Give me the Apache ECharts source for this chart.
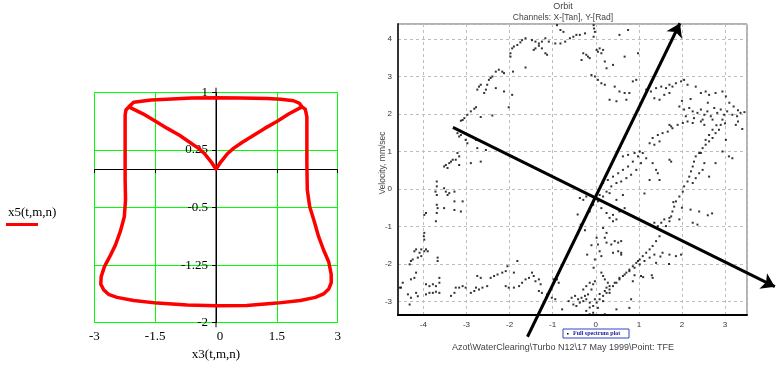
<!DOCTYPE html>
<html><head><meta charset="utf-8">
<script src="https://cdn.jsdelivr.net/npm/echarts@6/dist/echarts.min.js"></script>
<style>html,body{margin:0;padding:0;background:#fff}#c{width:776px;height:366px}</style>
</head><body><div id="c"></div>
<script>
// ---------- Left chart: x5(t,m,n) against x3(t,m,n) ----------
const x3Vals = [-2.15,-2.03,-1.6,-1.21,-0.6,0,0.6,1.26,1.6,1.91,2.05,2.12,
  1.8,1.5,1.2,0.93,0.65,0.43,0.28,0.19,0.1,0.04,0,
  -0.04,-0.1,-0.19,-0.28,-0.43,-0.65,-0.9,-1.2,-1.48,-1.8,-2.15,
  -2.22,-2.24,-2.24,-2.24,-2.23,-2.26,-2.36,-2.48,-2.62,-2.75,-2.83,-2.84,-2.77,-2.65,-2.44,-2.03,-1.45,-0.71,0,
  0.76,1.5,2.08,2.45,2.65,2.78,2.84,2.84,2.78,2.65,2.53,2.41,2.31,2.25,2.24,2.24,2.24,2.2,2.12];
const x5Vals = [0.81,0.87,0.9,0.91,0.925,0.93,0.925,0.92,0.91,0.89,0.86,0.81,
  0.72,0.62,0.53,0.44,0.35,0.27,0.2,0.14,0.08,0.03,0.0,
  0.03,0.08,0.14,0.2,0.27,0.35,0.44,0.53,0.62,0.72,0.81,
  0.77,0.7,0.29,-0.14,-0.4,-0.62,-0.815,-0.99,-1.14,-1.27,-1.4,-1.5,-1.57,-1.63,-1.67,-1.71,-1.745,-1.77,-1.78,
  -1.775,-1.745,-1.71,-1.67,-1.625,-1.56,-1.48,-1.37,-1.21,-1.05,-0.88,-0.66,-0.49,-0.27,0.08,0.47,0.68,0.78,0.81];
const leftXTicks = [-3, -1.5, 0, 1.5, 3];
const leftYTicks = [-2, -1.25, -0.5, 0.25, 1];
// vertical axis line of the left chart (at x3 = 0)
const yAxisLineX = [0, 0];
const yAxisLineY = [-2.06, 1.06];

// ---------- Right chart: Orbit ----------
const orbitPts = [
[-3.13,1.82],[-3.05,1.89],[-2.98,1.98],[-2.9,2.07],[-2.82,2.14],[-2.78,2.18],[-2.67,1.92],[-2.4,1.96],[-2.02,2.18],[-1.94,2.51],
[-2.75,2.65],[-2.71,2.73],[-2.67,2.78],[-2.59,2.56],[-2.55,2.65],[-2.52,2.78],[-2.48,2.91],[-2.44,2.96],[-2.4,3.0],[-2.32,3.13],[-2.25,3.18],[-2.17,3.13],[-2.13,3.09],[-2.32,2.69],[-2.13,2.6],
[-1.98,3.62],[-1.98,3.53],[-1.94,3.75],[-1.9,3.8],[-1.82,3.84],[-1.75,3.91],[-1.71,3.97],[-1.63,4.02],[-1.63,3.24],[-1.92,3.13],
[-1.48,3.97],[-1.4,3.93],[-1.32,3.88],[-1.25,3.93],[-1.17,4.02],[-1.09,3.93],[-0.94,3.88],[-0.82,3.88],[-0.71,3.93],
[-1.44,3.71],[-1.4,3.75],[-1.25,3.75],[-1.32,3.82],[-1.17,3.62],[-1.13,3.58],[-0.9,4.37],[-0.82,4.24],[-0.75,4.19],
[-0.6,4.02],[-0.52,4.06],[-0.45,4.11],[-0.37,4.11],[-0.25,4.15],[-0.05,4.37],[-0.04,4.28],[-0.02,4.19],[-0.05,4.06],
[0.02,3.71],[0.05,3.66],[0.09,3.75],[0.13,3.62],[0.17,3.71],[-0.29,3.62],[-0.22,3.58],[-0.18,3.53],[-0.14,3.49],[-0.33,3.44],
[0.21,3.4],[0.25,3.22],[0.4,3.31],[0.67,3.53],[0.55,4.11],[0.75,4.24],[0.98,3.62],
[-0.1,3.04],[-0.02,3.0],[0.05,2.91],[0.13,2.82],[0.21,2.78],[0.44,2.73],[0.55,2.6],[0.67,2.56],[0.48,2.34],[0.32,2.38],[0.86,2.87],[0.94,2.91],[0.78,2.56],[0.71,2.38],
[1.17,2.65],[1.28,2.6],[1.4,2.69],[1.52,2.73],[1.63,2.69],[1.71,2.78],[1.78,2.73],[1.86,2.82],[1.98,2.87],[2.05,2.91],[2.13,2.78],
[1.36,2.42],[1.48,2.38],[1.59,2.51],[1.71,2.56],[2.32,2.73],[2.44,2.56],[2.55,2.6],[2.63,2.51],[2.78,2.56],[2.94,2.6],[3.02,2.47],
[1.94,2.2],[2.05,2.12],[2.17,2.16],[2.25,2.07],[2.36,2.03],[2.44,2.12],[2.52,1.98],[2.59,2.07],[2.67,1.94],[2.75,2.16],[2.82,2.03],[2.9,2.12],[2.98,1.98],[3.05,2.07],[3.17,1.98],[3.28,1.94],[3.36,2.03],[2.09,1.94],[2.28,1.89],[2.48,1.85],[2.71,1.85],[2.94,1.85],
[3.1,2.3],[3.2,2.2],[3.3,2.1],[3.45,2.05],[2.6,2.3],[2.2,2.4],[2.0,2.35],[3.0,1.75],[3.3,1.8],[2.8,1.7],[3.4,1.6],
[-3.09,1.84],[-3.21,1.49],[-3.17,1.4],[-3.13,1.44],[-3.02,1.31],[-2.98,1.22],[-2.78,1.31],[-3.21,0.96],[-3.17,0.87],[-3.25,0.78],
[-3.52,0.6],[-3.48,0.64],[-3.44,0.56],[-3.4,0.69],[-3.36,0.73],[-3.32,0.78],[-3.17,0.64],[-2.9,0.69],[-2.67,0.73],[-2.55,1.04],[-2.75,1.09],
[-3.69,0.2],[-3.69,0.07],[-3.72,-0.07],[-3.69,-0.16],[-3.52,0.02],[-3.48,-0.07],[-3.44,-0.16],[-3.4,-0.11],[-3.28,-0.07],
[-3.69,-0.42],[-3.67,-0.51],[-3.69,-0.64],[-3.98,-0.69],[-3.94,-0.64],[-3.52,-0.51],[-3.28,-0.33],[-3.28,-0.56],[-3.13,-0.6],[-3.09,-0.33],
[-3.71,-0.86],[-3.98,-1.17],[-3.99,-1.26],[-3.98,-1.35],
[-4.21,-1.66],[-4.17,-1.61],[-4.09,-1.7],[-4.05,-1.61],[-3.98,-1.66],[-3.94,-1.61],[-3.9,-1.66],[-4.13,-1.83],[-4.05,-1.79],
[-4.29,-1.92],[-4.25,-1.88],[-4.32,-2.01],[-3.67,-1.83],[-3.67,-1.92],
[-4.17,-2.23],[-4.21,-2.37],[-4.29,-2.41],[-4.48,-2.5],[-4.55,-2.63],[-4.52,-2.63],
[-4.36,-2.81],[-4.29,-2.9],[-4.32,-3.08],[-4.17,-2.77],[-4.13,-2.86],
[-3.94,-2.54],[-3.86,-2.59],[-3.78,-2.54],[-3.71,-2.59],[-3.63,-2.5],
[-3.94,-2.81],[-3.86,-2.77],[-3.78,-2.77],[-3.71,-2.74],[-3.63,-2.77],[-3.63,-2.37],
[-3.36,-2.85],[-3.28,-2.77],[-3.25,-2.63],[-3.17,-2.63],[-3.09,-2.59],[-3.02,-2.63],
[-2.9,-2.77],[-2.82,-2.72],[-2.78,-2.63],[-2.71,-2.68],[-2.63,-2.63],[-2.52,-2.59],
[-2.75,-2.32],[-2.67,-2.37],[-2.44,-2.37],[-2.36,-2.32],[-2.28,-2.28],[-2.17,-2.23],[-2.09,-2.19],
[-2.05,-2.06],[-1.82,-1.92],[-1.9,-2.23],
[-2.09,-2.59],[-2.02,-2.63],[-1.9,-2.63],[-1.78,-2.59],[-1.71,-2.5],[-1.63,-2.41],[-1.55,-2.37],
[-1.48,-2.23],[-1.44,-2.32],[-1.4,-2.46],[-1.32,-2.41],[-1.28,-2.54],
[-1.32,-2.72],[-1.25,-2.77],[-1.13,-2.81],[-1.02,-2.9],[-0.94,-2.94],
[-0.98,-2.41],[-0.9,-2.41],[-0.86,-2.5],[-0.63,-2.99],[-0.78,-3.21],
[-0.42,-0.68],[-0.35,-0.95],[-0.25,-1.1],[-0.1,-1.5],[-0.2,-1.75],[-0.05,-2.1],
[0.02,-1.3],[0.05,-1.48],[0.09,-1.66],[0.13,-1.79],[0.17,-1.04],[0.25,-1.17],[0.21,-1.3],[0.32,-0.77],[0.4,-0.86],[0.48,-0.81],
[0.25,-1.43],[0.36,-1.48],[0.44,-1.39],[0.52,-1.43],[0.59,-1.39],[0.4,-1.7],[0.52,-1.66],[0.59,-1.7],[-0.02,-1.88],
[-0.22,-3.25],[-0.14,-3.16],[-0.06,-3.12],[0.02,-3.03],[0.09,-2.94],[0.17,-2.85],[0.25,-2.77],[0.32,-2.68],[0.4,-2.59],[0.48,-2.5],[0.55,-2.41],[0.63,-2.32],[0.71,-2.23],
[0.78,-2.15],[0.86,-2.06],[0.94,-1.97],[1.02,-1.88],[1.09,-1.79],[1.17,-1.7],[1.25,-1.61],[1.32,-1.52],[1.4,-1.39],[1.48,-1.26],[1.55,-1.12],[1.63,-0.99],[1.71,-0.86],
[-0.14,-3.03],[-0.02,-2.94],[0.09,-2.8],[0.21,-2.72],[0.32,-2.59],[0.44,-2.5],[0.55,-2.37],[0.67,-2.28],[0.78,-2.19],[0.9,-2.1],[1.02,-2.01],[1.13,-1.92],[1.25,-1.83],[1.36,-1.75],
[-0.56,-2.9],[-0.48,-2.85],[-0.41,-2.94],[-0.33,-2.9],[-0.25,-2.85],[-0.18,-2.81],[-0.52,-3.08],[-0.45,-3.12],[-0.37,-3.03],[-0.29,-2.99],[-0.22,-2.94],
[-0.1,-2.68],[-0.06,-2.54],[-0.02,-2.46],[-0.14,-2.5],[-0.22,-2.59],[-0.29,-2.68],[0.13,-2.23],[0.17,-2.32],[0.21,-2.41],[0.28,-2.5],[0.25,-2.63],[0.32,-2.77],
[0.17,-2.99],[0.05,-3.17],[-0.06,-3.3],[-0.14,-3.34],
[1.36,-0.9],[1.44,-0.99],[1.52,-0.9],[1.59,-0.81],[1.71,-0.77],[1.94,-0.81],[2.25,-0.9],[2.36,-0.95],
[1.55,-1.7],[1.71,-1.75],[1.86,-1.79],[1.98,-1.75],[1.4,-1.97],[1.32,-2.37],[1.05,-2.32],[0.82,-2.94],[0.78,-3.17],[0.48,-3.21],[0.21,-3.34],[0.59,-1.75],[0.98,-1.92],[0.86,-2.46],
[1.8,-0.35],[2.0,-0.5],[2.2,-0.55],[2.4,-0.6],[2.6,-0.7],[2.7,-0.65],[1.5,-1.8],[1.7,-2.0],[0.9,-2.3],[1.1,-2.35],[1.3,-2.3],
[1.25,1.22],[1.32,1.36],[1.44,1.44],[1.55,1.49],[1.67,1.53],[1.78,1.62],[1.9,1.71],[2.02,1.76],[2.13,1.8],[2.25,1.76],[2.44,1.8],[2.52,1.71],[1.36,1.18],[1.48,1.27],[1.71,1.71],[1.75,1.67],
[2.9,1.71],[2.86,1.58],[2.78,1.49],[2.71,1.36],[2.63,1.27],[2.55,1.18],[2.48,1.09],[2.4,0.96],[2.32,0.87],[2.28,0.73],[2.25,0.6],[2.21,0.47],[2.17,0.33],[2.13,0.2],[2.05,0.07],[2.02,-0.07],[1.94,-0.2],[1.86,-0.33],[1.82,-0.47],[1.78,-0.6],[1.75,-0.73],
[2.71,1.58],[2.63,1.44],[2.55,1.31],[2.44,0.96],[2.52,0.69],[2.48,0.51],[2.4,0.42],[2.32,0.29],[2.25,0.16],[2.78,0.69],[2.63,0.33],
[3.02,1.31],[3.09,0.87],[3.17,0.82],[3.25,1.71],[2.94,1.0],
[0.17,0.16],[0.28,0.24],[0.4,0.33],[0.52,0.42],[0.63,0.51],[0.75,0.6],[0.86,0.73],[0.98,0.87],[1.09,0.96],[0.36,0.07],[0.48,0.16],[0.59,0.2],[0.71,0.29],[0.82,0.38],[0.94,0.51],[1.05,0.69],[1.17,0.82],[0.63,0.87],[0.75,0.91],[0.9,0.96],[1.02,1.0],
[1.32,0.69],[1.4,0.51],[1.44,0.42],[1.71,0.78],[1.75,0.73],[1.25,0.24],[1.48,0.24],[1.13,-0.12],
[-0.37,-0.24],[-0.29,-0.29],[-0.22,-0.2],[-0.14,-0.16],[0.09,-0.16],[0.17,-0.2],[0.25,-0.07],[0.32,-0.11],[0.05,-0.33],[-0.06,-0.42],[-0.14,-0.6],[0.13,-0.51],[0.25,-0.64],[0.4,-0.69],[0.55,-0.6],[0.67,-0.51],[0.48,-0.29],[0.63,-0.16]
];
// principal-axis arrows: tail and head, data units
const arrowTailX = [-1.585, -3.315];
const arrowTailY = [-3.94, 1.645];
const arrowHeadX = [1.954, 4.156];
const arrowHeadY = [4.42, -2.605];

const chart = echarts.init(document.getElementById('c'), null, {renderer: 'canvas'});
const serif = '"Liberation Serif", "Times New Roman", serif';
const sans = '"Liberation Sans", Arial, sans-serif';
const isInt = v => Math.abs(v - Math.round(v)) < 1e-6;

// left grid geometry (pixels)
const LG = {left: 94.3, top: 92.3, width: 243.4, height: 230.4};
const yZeroOffset = -LG.width / 2; // move the y axis labels from the left edge to x = 0

chart.setOption({
  animation: false,
  backgroundColor: '#ffffff',
  grid: [
    {left: LG.left, top: LG.top, width: LG.width, height: LG.height, show: false},
    {left: 398, top: 24, width: 349, height: 291, show: true, borderColor: '#666', borderWidth: 1, backgroundColor: '#fff'}
  ],
  xAxis: [
    {type: 'value', gridIndex: 0, min: leftXTicks[0], max: leftXTicks[leftXTicks.length - 1], interval: 1.5, z: 2,
     axisLine: {show: true, onZero: true, lineStyle: {color: '#000', width: 1}},
     axisTick: {show: true, length: 4, lineStyle: {color: '#000'}},
     axisLabel: {fontFamily: serif, fontSize: 13, color: '#000', margin: 7,
       formatter: v => v === 0 ? '{z|0}' : String(v), rich: {z: {padding: [0, 0, 0, 8], fontFamily: serif, fontSize: 13, color: '#000'}}},
     splitLine: {show: true, lineStyle: {color: '#00ff00', width: 1}}},
    {type: 'value', gridIndex: 1, min: -4.59, max: 3.51, splitNumber: 8, minInterval: 1, maxInterval: 1,
     axisLine: {show: true, onZero: false, lineStyle: {color: '#000', width: 2}},
     axisTick: {show: false},
     axisLabel: {fontFamily: sans, fontSize: 8, color: '#333', margin: 6, formatter: v => isInt(v) ? String(Math.round(v)) : ''},
     splitLine: {show: true, lineStyle: {color: '#bdbdbd', width: 1, type: [3, 3]}}}
  ],
  yAxis: [
    {type: 'value', gridIndex: 0, min: leftYTicks[0], max: leftYTicks[leftYTicks.length - 1], interval: 0.75, z: 3,
     position: 'left', offset: yZeroOffset,
     axisLine: {show: true, onZero: false, lineStyle: {color: '#000', width: 1}},
     axisTick: {show: true, length: 4, lineStyle: {color: '#000'}},
     axisLabel: {fontFamily: serif, fontSize: 13, color: '#000', margin: 8},
     splitLine: {show: true, lineStyle: {color: '#00ff00', width: 1}}},
    {type: 'value', gridIndex: 1, min: -3.36, max: 4.4, splitNumber: 8, minInterval: 1, maxInterval: 1,
     axisLine: {show: true, onZero: false, lineStyle: {color: '#333', width: 2}},
     axisTick: {show: false},
     axisLabel: {fontFamily: sans, fontSize: 8, color: '#333', margin: 6, formatter: v => isInt(v) ? String(Math.round(v)) : ''},
     splitLine: {show: true, lineStyle: {color: '#bdbdbd', width: 1, type: [3, 3]}}}
  ],
  series: [
    {type: 'line', xAxisIndex: 0, yAxisIndex: 0, name: 'axis0',
     data: yAxisLineX.map((x, i) => [x, yAxisLineY[i]]),
     showSymbol: false, symbol: 'none', clip: false, z: 4, silent: true,
     lineStyle: {color: '#000', width: 1}},
    {type: 'line', xAxisIndex: 0, yAxisIndex: 0, name: 'x5(t,m,n)',
     data: x3Vals.map((x, i) => [x, x5Vals[i]]),
     showSymbol: false, symbol: 'none', clip: false, z: 5,
     lineStyle: {color: '#ff0000', width: 3.5, join: 'round', cap: 'round'}},
    {type: 'scatter', xAxisIndex: 1, yAxisIndex: 1, name: 'Full spectrum plot',
     data: orbitPts, symbol: 'rect', symbolSize: 2, itemStyle: {color: '#000'}, z: 3},
    {type: 'lines', coordinateSystem: 'cartesian2d', xAxisIndex: 1, yAxisIndex: 1, clip: false, z: 6,
     data: arrowTailX.map((x, i) => ({coords: [[x, arrowTailY[i]], [arrowHeadX[i], arrowHeadY[i]]]})),
     symbol: ['none', 'arrow'], symbolSize: 13,
     lineStyle: {color: '#000', width: 3, opacity: 1}}
  ],
  graphic: [
    {type: 'text', style: {text: 'x5(t,m,n)', x: 8, y: 213, fill: '#000', font: '13px ' + serif, textVerticalAlign: 'middle', verticalAlign: 'middle'}},
    {type: 'line', shape: {x1: 6, y1: 224.5, x2: 38, y2: 224.5}, style: {stroke: '#ff0000', lineWidth: 3}},
    {type: 'text', style: {text: 'x3(t,m,n)', x: 216, y: 355, fill: '#000', font: '13px ' + serif, textAlign: 'center', align: 'center', textVerticalAlign: 'middle', verticalAlign: 'middle'}},
    {type: 'text', style: {text: 'Orbit', x: 563, y: 7, fill: '#444', font: '9px ' + sans, textAlign: 'center', align: 'center', textVerticalAlign: 'middle', verticalAlign: 'middle'}},
    {type: 'text', style: {text: 'Channels: X-[Tan], Y-[Rad]', x: 563, y: 17.5, fill: '#444', font: '8.5px ' + sans, textAlign: 'center', align: 'center', textVerticalAlign: 'middle', verticalAlign: 'middle'}},
    {type: 'text', x: 383, y: 163, rotation: Math.PI / 2, style: {text: 'Velocity, mm/sec', x: 0, y: 0, fill: '#444', font: '8.5px ' + sans, textAlign: 'center', align: 'center', textVerticalAlign: 'middle', verticalAlign: 'middle'}},
    {type: 'rect', shape: {x: 563, y: 329, width: 66, height: 9}, style: {fill: '#fff', stroke: '#3344cc', lineWidth: 1}},
    {type: 'rect', shape: {x: 567, y: 333, width: 1.5, height: 1.5}, style: {fill: '#000'}},
    {type: 'text', style: {text: 'Full spectrum plot', x: 573, y: 333.8, fill: '#1a1a99', font: 'bold 6px ' + serif, textVerticalAlign: 'middle', verticalAlign: 'middle'}},
    {type: 'text', style: {text: 'Azot\\WaterClearing\\Turbo N12\\17 May 1999\\Point: TFE', x: 563, y: 348, fill: '#444', font: '9px ' + sans, textAlign: 'center', align: 'center', textVerticalAlign: 'middle', verticalAlign: 'middle'}}
  ]
});
</script></body></html>
